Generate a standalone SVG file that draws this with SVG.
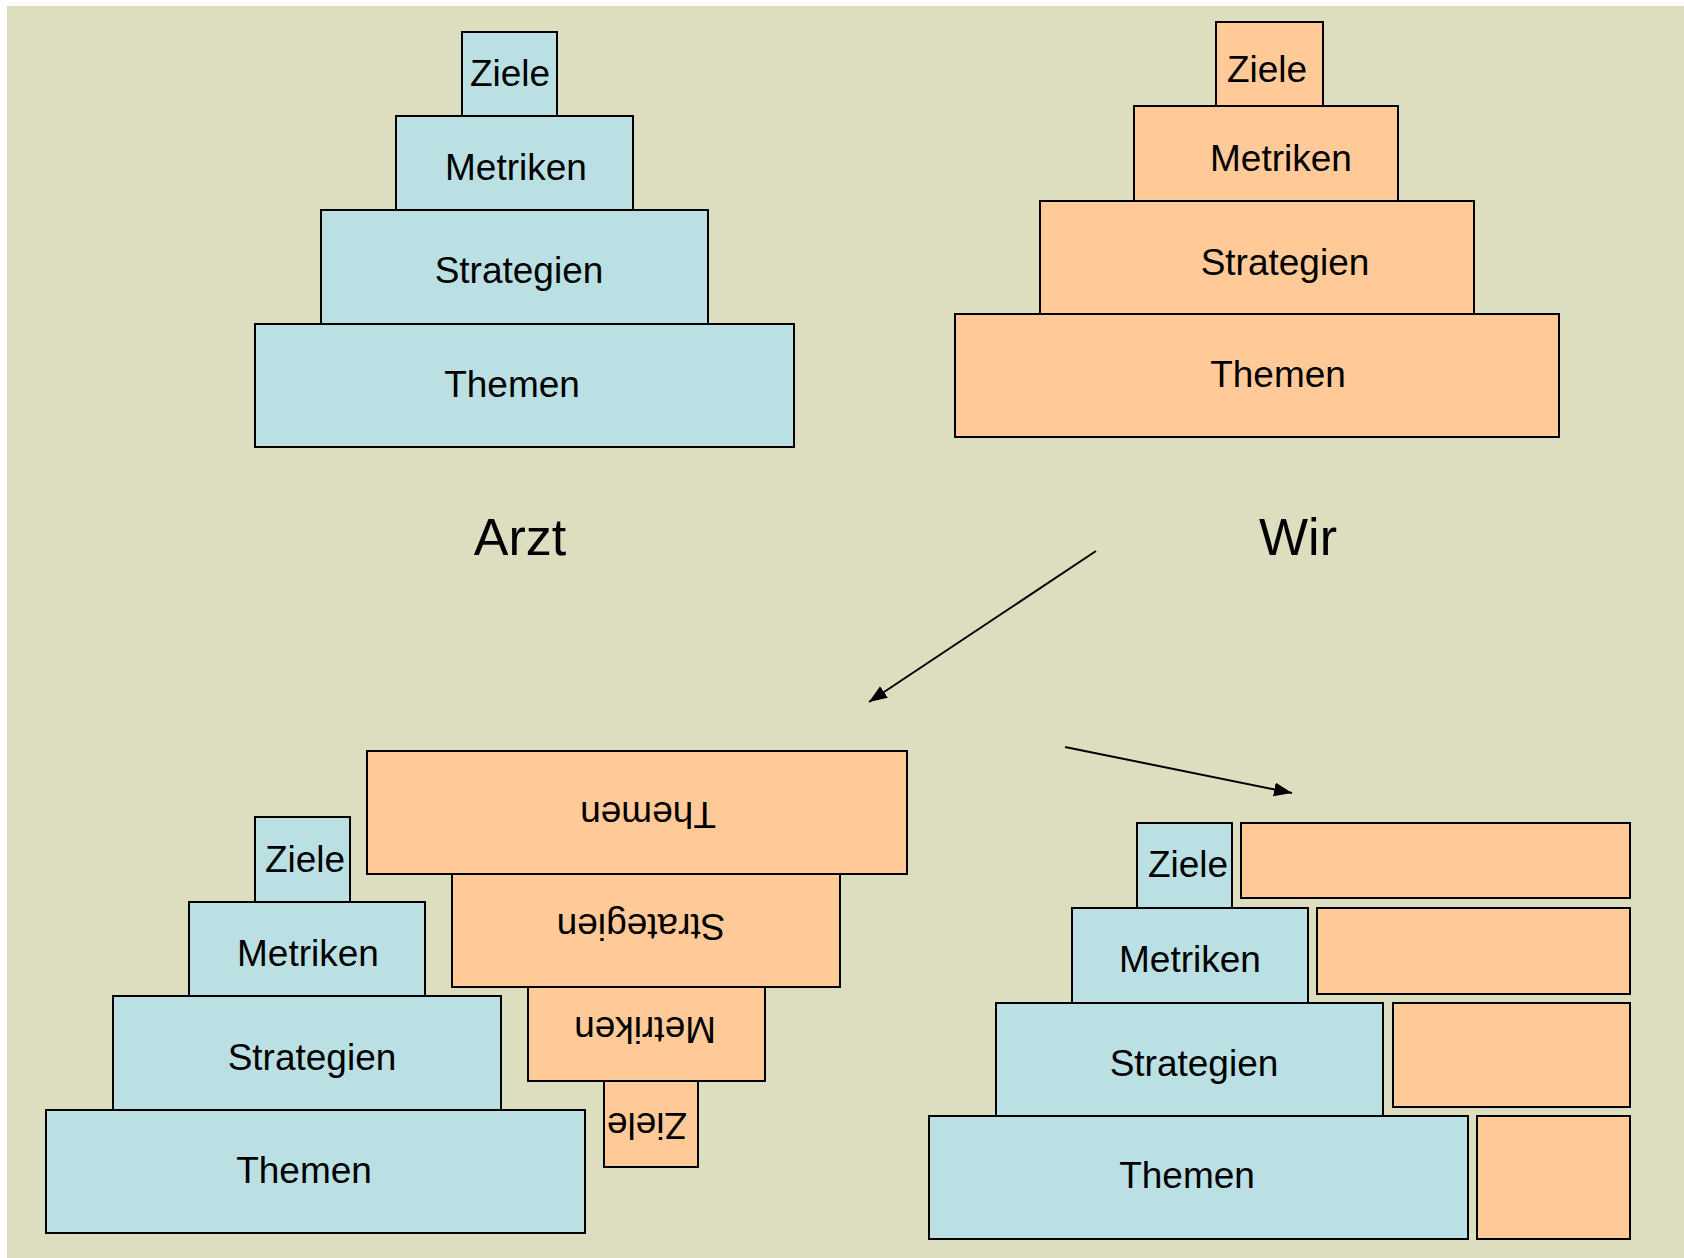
<svg xmlns="http://www.w3.org/2000/svg" width="1684" height="1258" viewBox="0 0 1684 1258">
<defs>
<style>
.b{fill:#BAE0E3;stroke:#000;stroke-width:2}
.o{fill:#FFCA98;stroke:#000;stroke-width:2}
text{font-family:"Liberation Sans",Arial,sans-serif;font-size:37px;fill:#000;text-anchor:middle}
.big{font-size:52px}
.c{stroke:#000;stroke-width:2;fill:none}
</style>
<marker id="ah" markerUnits="userSpaceOnUse" markerWidth="20" markerHeight="16" refX="18" refY="7" orient="auto">
<path d="M0,0 L18,7 L0,14 Z" fill="#000"/>
</marker>
</defs>
<rect x="0" y="0" width="1684" height="1258" fill="#fff"/>
<rect x="7" y="6" width="1677" height="1252" fill="#DDDEC0"/>

<g id="arzt-pyramid">
<g id="a-themen"><rect class="b" x="255" y="324" width="539" height="123"/><text x="512" y="397">Themen</text></g>
<g id="a-strategien"><rect class="b" x="321" y="210" width="387" height="114"/><text x="519" y="283">Strategien</text></g>
<g id="a-metriken"><rect class="b" x="396" y="116" width="237" height="94"/><text x="516" y="180">Metriken</text></g>
<g id="a-ziele"><rect class="b" x="462" y="32" width="95" height="84"/><text x="510" y="86">Ziele</text></g>
</g>

<g id="wir-pyramid">
<g id="w-themen"><rect class="o" x="955" y="314" width="604" height="123"/><text x="1278" y="387">Themen</text></g>
<g id="w-strategien"><rect class="o" x="1040" y="201" width="434" height="113"/><text x="1285" y="275">Strategien</text></g>
<g id="w-metriken"><rect class="o" x="1134" y="106" width="264" height="95"/><text x="1281" y="171">Metriken</text></g>
<g id="w-ziele"><rect class="o" x="1216" y="22" width="107" height="84"/><text x="1267" y="82">Ziele</text></g>
</g>

<g id="label-arzt"><text class="big" x="520" y="555">Arzt</text></g>
<g id="label-wir"><text class="big" x="1298" y="555">Wir</text></g>

<g id="connectors">
<line class="c" x1="1096" y1="551" x2="869" y2="702" marker-end="url(#ah)"/>
<line class="c" x1="1065" y1="747" x2="1292" y2="793" marker-end="url(#ah)"/>
</g>

<g id="bottom-left">
<g id="bl-o-themen"><rect class="o" x="367" y="751" width="540" height="123"/><text x="648" y="802" transform="rotate(180 648 802)">Themen</text></g>
<g id="bl-o-strategien"><rect class="o" x="452" y="874" width="388" height="113"/><text x="641" y="914" transform="rotate(180 641 914)">Strategien</text></g>
<g id="bl-o-metriken"><rect class="o" x="528" y="987" width="237" height="94"/><text x="645" y="1017" transform="rotate(180 645 1017)">Metriken</text></g>
<g id="bl-o-ziele"><rect class="o" x="604" y="1081" width="94" height="86"/><text x="647" y="1113" transform="rotate(180 647 1113)">Ziele</text></g>
<g id="bl-b-themen"><rect class="b" x="46" y="1110" width="539" height="123"/><text x="304" y="1183">Themen</text></g>
<g id="bl-b-strategien"><rect class="b" x="113" y="996" width="388" height="114"/><text x="312" y="1070">Strategien</text></g>
<g id="bl-b-metriken"><rect class="b" x="189" y="902" width="236" height="94"/><text x="308" y="966">Metriken</text></g>
<g id="bl-b-ziele"><rect class="b" x="255" y="817" width="95" height="85"/><text x="305" y="872">Ziele</text></g>
</g>

<g id="bottom-right">
<g id="br-b-themen"><rect class="b" x="929" y="1116" width="539" height="123"/><text x="1187" y="1188">Themen</text></g>
<g id="br-b-strategien"><rect class="b" x="996" y="1003" width="387" height="113"/><text x="1194" y="1076">Strategien</text></g>
<g id="br-b-metriken"><rect class="b" x="1072" y="908" width="236" height="95"/><text x="1190" y="972">Metriken</text></g>
<g id="br-b-ziele"><rect class="b" x="1137" y="823" width="95" height="85"/><text x="1188" y="877">Ziele</text></g>
<g id="br-o-1"><rect class="o" x="1241" y="823" width="389" height="75"/></g>
<g id="br-o-2"><rect class="o" x="1317" y="908" width="313" height="86"/></g>
<g id="br-o-3"><rect class="o" x="1393" y="1003" width="237" height="104"/></g>
<g id="br-o-4"><rect class="o" x="1477" y="1116" width="153" height="123"/></g>
</g>
</svg>
